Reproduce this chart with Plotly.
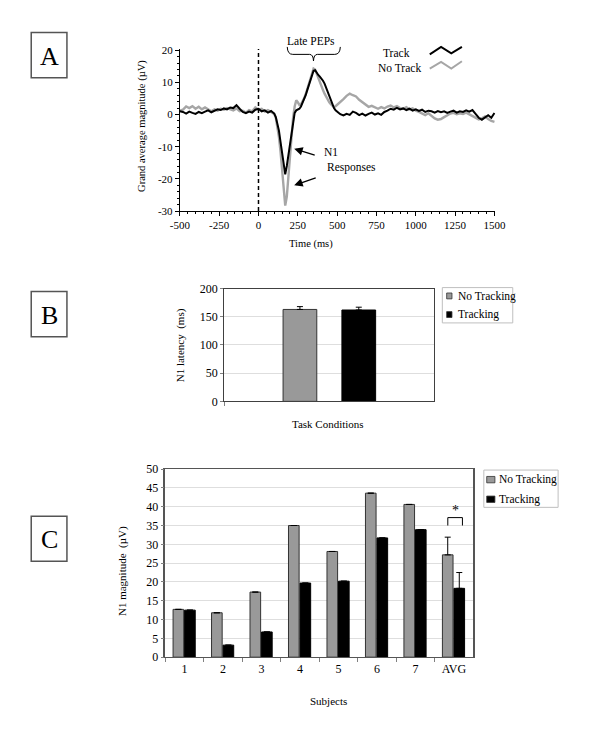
import plotly.graph_objects as go

# ---------------- Data ----------------
# Panel A: grand average waveforms (time in ms, magnitude in µV)
t_ms = [-500, -480, -460, -440, -420, -400, -380, -360, -340, -320, -300, -280, -260, -240, -220,
        -200, -180, -160, -140, -120, -100, -80, -60, -40, -20, 0, 20, 40, 60, 80, 100,
        110, 120, 130, 140, 150, 160, 170, 180, 190, 200, 210, 220, 230, 240, 250, 260, 270, 280,
        290, 300, 310, 320, 330, 340, 350, 360, 370, 380, 390, 400, 410, 420, 430, 440, 450, 460,
        470, 480, 490, 500,
        520, 540, 560, 580, 600, 620, 640, 660, 680, 700, 720, 740, 760, 780, 800, 820, 840, 860,
        880, 900, 920, 940, 960, 980, 1000, 1020, 1040, 1060, 1080, 1100, 1120, 1140, 1160, 1180,
        1200, 1220, 1240, 1260, 1280, 1300, 1320, 1340, 1360, 1380, 1400, 1420, 1440, 1460, 1480, 1500]

track_uv = [1.0, 0.8, 0.3, 0.9, 0.5, 0.2, 0.8, 0.4, 0.9, 1.3, 0.7, 1.2, 1.6, 1.4, 1.9,
            1.6, 2.2, 2.0, 2.9, 1.8, 0.8, 0.4, 0.9, 0.6, 1.5, 1.8, 1.0, 1.3, 0.6, 1.1, 0.3,
            -0.8, -2.5, -5.0, -8.5, -12.5, -16.5, -18.6, -16.0, -12.5, -9.0, -5.0, -1.5, 0.5, 1.3, 1.5, 1.8, 2.5, 3.5,
            4.6, 6.0, 7.6, 9.0, 10.5, 12.2, 13.6, 13.8, 12.8, 12.3, 11.8, 11.2, 10.5, 9.6, 8.4, 7.0, 5.6, 4.2,
            3.0, 2.0, 1.3, 0.8,
            0.1, -0.3, 0.2, -0.1, 0.9, 0.5, -0.2, 0.3, -0.3, 0.2, 0.6, 0.0, 0.4, -0.1, 0.8, 1.2, 1.8, 1.5,
            2.1, 1.6, 1.9, 1.4, 1.8, 1.2, 1.6, 1.1, 1.5, 0.8, 1.2, 1.0, 0.6, 1.1, 0.7, 1.0,
            0.5, 0.9, 1.2, 0.6, 1.0, 0.8, 1.3, 0.9, 1.4, 0.2, -1.0, -1.6, -0.8, -0.2, -1.0, 0.5]

notrack_uv = [1.2, 1.5, 2.5, 2.0, 2.6, 1.8, 2.4, 1.6, 2.2, 1.5, 1.0, 1.6, 1.2, 1.8, 1.5,
              2.0, 1.6, 1.3, 1.9, 1.0, 1.2, 0.6, 1.4, 1.0, 2.2, 1.5, 1.8, 0.9, 1.4, 0.8, 0.2,
              -1.0, -3.5, -7.0, -11.5, -17.0, -24.0, -28.3, -25.5, -19.0, -12.0, -6.0, -1.0, 2.5, 4.4, 3.8, 3.0, 3.2, 4.0,
              5.0, 6.3, 7.8, 9.2, 10.8, 12.5, 14.3, 14.0, 12.6, 11.4, 10.2, 8.8, 7.6, 6.5, 5.5, 4.6, 3.8, 3.2,
              2.6, 2.3, 2.6, 3.0,
              3.8, 4.8, 5.8, 6.5, 6.0, 5.6, 4.6, 3.9, 3.0, 2.4, 2.7, 2.2, 1.8, 2.3, 1.9, 2.5, 2.8, 2.2,
              2.6, 2.0, 1.8, 2.3, 1.6, 1.9, 1.2, 0.8, 0.2, -0.2, 0.4, -0.5, -1.2, -1.6, -1.4, -0.8,
              -0.2, 0.3, 0.5, 0.1, 0.4, 0.2, 0.6, 0.1, -0.3, -1.0, -1.5, -1.2, -0.6, -1.4, -2.0, -2.3]

a_xticks = [-500, -250, 0, 250, 500, 750, 1000, 1250, 1500]
a_yticks = [-30, -20, -10, 0, 10, 20]

# Panel B: N1 latency
cond_cat = ["Task Conditions"]
latency_notrack = [163]
latency_track = [162]
latency_notrack_err = [5]
latency_track_err = [5]

# Panel C: N1 magnitude per subject
subjects = ["1", "2", "3", "4", "5", "6", "7", "AVG"]
n1_notrack = [12.7, 11.8, 17.3, 35.0, 28.1, 43.6, 40.6, 27.2]
n1_track = [12.5, 3.2, 6.7, 19.7, 20.2, 31.7, 33.9, 18.3]
n1_notrack_err = [None, None, None, None, None, None, None, 4.7]
n1_track_err = [None, None, None, None, None, None, None, 4.2]

# ---------------- Styling helpers ----------------
W, H = 600, 740
FONT = "'Liberation Serif', 'Times New Roman', Times, serif"
GRAY = "#999999"


def px(x):
    return x / W


def py(y):
    return 1 - y / H


def hyphen_labels(vals):
    return [str(v) for v in vals]


fig = go.Figure()

# ---------------- Panel A ----------------
fig.add_trace(go.Scatter(x=t_ms, y=notrack_uv, mode="lines", name="No Track",
                         line=dict(color="#a6a6a6", width=2.4), xaxis="x", yaxis="y"))
fig.add_trace(go.Scatter(x=t_ms, y=track_uv, mode="lines", name="Track",
                         line=dict(color="black", width=2.0), xaxis="x", yaxis="y"))

# ---------------- Panel B ----------------
fig.add_trace(go.Bar(x=cond_cat, y=latency_notrack, name="No Tracking",
                     marker=dict(color=GRAY, line=dict(color="#333333", width=1)),
                     offset=-0.219, width=0.161,
                     error_y=dict(type="data", array=latency_notrack_err, arrayminus=[0], symmetric=False,
                                  color="black", thickness=1, width=3),
                     xaxis="x2", yaxis="y2"))
fig.add_trace(go.Bar(x=cond_cat, y=latency_track, name="Tracking",
                     marker=dict(color="black", line=dict(color="black", width=1)),
                     offset=0.062, width=0.161,
                     error_y=dict(type="data", array=latency_track_err, arrayminus=[0], symmetric=False,
                                  color="black", thickness=1, width=3),
                     xaxis="x2", yaxis="y2"))

# ---------------- Panel C ----------------
fig.add_trace(go.Bar(x=subjects, y=n1_notrack, name="No Tracking",
                     marker=dict(color=GRAY, line=dict(color="#333333", width=1)),
                     offset=-0.30, width=0.276,
                     error_y=dict(type="data", array=n1_notrack_err,
                                  arrayminus=[0] * len(subjects), symmetric=False,
                                  color="black", thickness=1, width=3),
                     xaxis="x3", yaxis="y3"))
fig.add_trace(go.Bar(x=subjects, y=n1_track, name="Tracking",
                     marker=dict(color="black", line=dict(color="black", width=1)),
                     offset=0.0, width=0.276,
                     error_y=dict(type="data", array=n1_track_err,
                                  arrayminus=[0] * len(subjects), symmetric=False,
                                  color="black", thickness=1, width=3),
                     xaxis="x3", yaxis="y3"))

shapes = []
annotations = []

# Dashed stimulus-onset line in panel A
shapes.append(dict(type="line", xref="x", yref="y", x0=0, x1=0, y0=-30, y1=20.4,
                   line=dict(color="black", width=1.5, dash="4px,3px")))

# Late PEPs brace (paper coordinates)
brace_pts = "M {a},{b} Q {c},{d} {e},{d} L {f},{d} Q {g},{d} {h},{i} Q {j},{d} {k},{d} L {l},{d} Q {m},{d} {n},{b}".format(
    a=px(287.3), b=py(40.7), c=px(287.6), d=py(48.3), e=px(293), f=px(310.5), g=px(314.2),
    h=px(314.5), i=py(55), j=px(314.8), k=px(318.5), l=px(336.5), m=px(342), n=px(342.3))
shapes.append(dict(type="path", xref="paper", yref="paper", path=brace_pts,
                   line=dict(color="black", width=1)))
annotations.append(dict(xref="paper", yref="paper", x=px(312), y=py(35), text="Late PEPs",
                        showarrow=False, font=dict(size=11.5), xanchor="center", yanchor="middle"))

# Custom legend for panel A (text with zigzag line keys)
annotations.append(dict(xref="paper", yref="paper", x=px(400), y=py(46.5), text="Track",
                        showarrow=False, font=dict(size=11.5), xanchor="center", yanchor="middle"))
annotations.append(dict(xref="paper", yref="paper", x=px(404), y=py(62.5), text="No Track",
                        showarrow=False, font=dict(size=11.5), xanchor="center", yanchor="middle"))
zig_track = "M {},{} L {},{} L {},{} L {},{}".format(px(435), py(48.3), px(446.7), py(40.7),
                                                   px(457.3), py(47.3), px(468.3), py(40.7))
zig_notrack = "M {},{} L {},{} L {},{} L {},{}".format(px(435), py(62.7), px(446.7), py(56),
                                                     px(457.3), py(62.7), px(468.3), py(55.3))
shapes.append(dict(type="path", xref="paper", yref="paper", path=zig_track,
                   line=dict(color="black", width=2)))
shapes.append(dict(type="path", xref="paper", yref="paper", path=zig_notrack,
                   line=dict(color="#a6a6a6", width=2)))

# N1 arrows and label
annotations.append(dict(xref="x", yref="y", x=227, y=-10.6, ax=22, ay=7, text="", showarrow=True,
                        arrowhead=2, arrowsize=1.3, arrowwidth=1.3, arrowcolor="black"))
annotations.append(dict(xref="x", yref="y", x=227, y=-22.0, ax=23, ay=-8, text="", showarrow=True,
                        arrowhead=2, arrowsize=1.3, arrowwidth=1.3, arrowcolor="black"))
annotations.append(dict(xref="paper", yref="paper", x=px(323), y=py(148.3), text="N1",
                        showarrow=False, font=dict(size=11.5), xanchor="left", yanchor="middle"))
annotations.append(dict(xref="paper", yref="paper", x=px(326.5), y=py(163.3), text="Responses",
                        showarrow=False, font=dict(size=11.5), xanchor="left", yanchor="middle"))

# Axis titles panel A
annotations.append(dict(xref="paper", yref="paper", x=px(312), y=py(242), text="Time (ms)",
                        showarrow=False, font=dict(size=10.5), xanchor="center", yanchor="middle"))
annotations.append(dict(xref="paper", yref="paper", x=px(137), y=py(121), text="Grand average magnitude (µV)",
                        showarrow=False, font=dict(size=10.5), textangle=-90, xanchor="center", yanchor="middle"))

# Axis titles panel B
annotations.append(dict(xref="paper", yref="paper", x=px(330), y=py(425), text="Task Conditions",
                        showarrow=False, font=dict(size=11), xanchor="center", yanchor="middle"))
annotations.append(dict(xref="paper", yref="paper", x=px(177), y=py(345), text="N1 latency  (ms)",
                        showarrow=False, font=dict(size=11), textangle=-90, xanchor="center", yanchor="middle"))

# Axis titles panel C
annotations.append(dict(xref="paper", yref="paper", x=px(330), y=py(707), text="Subjects",
                        showarrow=False, font=dict(size=11), xanchor="center", yanchor="middle"))
annotations.append(dict(xref="paper", yref="paper", x=px(116), y=py(575), text="N1 magnitude  (µV)",
                        showarrow=False, font=dict(size=11), textangle=-90, xanchor="center", yanchor="middle"))


# Custom legends for B and C
def add_legend(box, entries):
    x0, y0, x1, y1 = box
    shapes.append(dict(type="rect", xref="paper", yref="paper", x0=px(x0), x1=px(x1), y0=py(y1), y1=py(y0),
                       line=dict(color="#bfbfbf", width=1), fillcolor="white"))
    for (sx0, sy0, sx1, sy1, color, tx, ty, text) in entries:
        shapes.append(dict(type="rect", xref="paper", yref="paper", x0=px(sx0), x1=px(sx1),
                           y0=py(sy1), y1=py(sy0), fillcolor=color, line=dict(color="#333333", width=0.8)))
        annotations.append(dict(xref="paper", yref="paper", x=px(tx), y=py(ty), text=text,
                                showarrow=False, font=dict(size=11.5), xanchor="left", yanchor="middle"))


add_legend((448, 286, 521, 322), [
    (452.5, 291.5, 458, 297.5, GRAY, 462, 295, "No Tracking"),
    (452.5, 310.5, 458, 316.5, "black", 462, 313.5, "Tracking"),
])
add_legend((491, 472, 568, 510), [
    (494, 478.5, 502.5, 485, GRAY, 505, 481.7, "No Tracking"),
    (494, 498.5, 502.5, 505, "black", 505, 501.7, "Tracking"),
])

# Significance bracket on AVG in panel C
shapes.append(dict(type="path", xref="x3", yref="y3",
                   path="M 6.84,35.0 L 6.84,37.1 L 7.22,37.1 L 7.22,35.0",
                   line=dict(color="black", width=1)))
annotations.append(dict(xref="x3", yref="y3", x=7.03, y=38.9, text="*", showarrow=False,
                        font=dict(size=14), xanchor="center", yanchor="middle"))

# Panel letter boxes
for letter, (by0, by1) in zip(["A", "B", "C"], [(26, 72), (290, 336), (519, 565)]):
    shapes.append(dict(type="rect", xref="paper", yref="paper", x0=px(22), x1=px(59),
                       y0=py(by1), y1=py(by0), line=dict(color="#555555", width=1.5)))
    annotations.append(dict(xref="paper", yref="paper", x=px(40.5), y=py((by0 + by1) / 2 + 1), text=letter,
                            showarrow=False, font=dict(size=26), xanchor="center", yanchor="middle"))

axis_common = dict(showline=True, zeroline=False, ticks="outside")

fig.update_layout(
    width=W, height=H,
    margin=dict(l=0, r=0, t=0, b=0),
    paper_bgcolor="white", plot_bgcolor="white",
    showlegend=False,
    barmode="overlay",
    font=dict(family=FONT, color="black", size=11),
    xaxis=dict(domain=[px(176), px(503)], range=[-500, 1506], anchor="y",
               tickvals=a_xticks, ticktext=hyphen_labels(a_xticks), tickfont=dict(size=11), showgrid=False,
               linecolor="black", linewidth=1, ticklen=4, tickcolor="black",
               minor=dict(ticks="outside", ticklen=2, dtick=50, tickcolor="black"), **axis_common),
    yaxis=dict(domain=[py(208), py(42.7)], range=[-30, 20.4], anchor="x",
               tickvals=a_yticks, ticktext=hyphen_labels(a_yticks), tickfont=dict(size=11), showgrid=False,
               linecolor="black", linewidth=1, ticklen=4, tickcolor="black",
               minor=dict(ticks="outside", ticklen=2, dtick=2, tickcolor="black"), **axis_common),
    xaxis2=dict(domain=[px(222), px(439)], anchor="y2", type="category", range=[-0.5, 0.5],
                showticklabels=False, tickson="boundaries", ticklen=4, tickcolor="#808080",
                showgrid=False, mirror=True, linecolor="#404040", linewidth=1, **axis_common),
    yaxis2=dict(domain=[py(402), py(287)], anchor="x2", range=[0, 200], dtick=50,
                tickfont=dict(size=12), showgrid=True, gridcolor="#dedede", gridwidth=1,
                mirror=True, linecolor="#404040", linewidth=1, ticklen=3, tickcolor="#808080",
                **axis_common),
    xaxis3=dict(domain=[px(161), px(480)], anchor="y3", type="category", range=[-0.5, 7.5],
                tickfont=dict(size=12), tickson="boundaries", ticklen=4, tickcolor="#808080",
                showgrid=False, mirror=True, linecolor="#555555", linewidth=1, **axis_common),
    yaxis3=dict(domain=[py(662.7), py(471)], anchor="x3", range=[0, 50], dtick=5,
                tickfont=dict(size=12), showgrid=True, gridcolor="#dedede", gridwidth=1,
                mirror=True, linecolor="#555555", linewidth=1.5, ticklen=3, tickcolor="#808080",
                **axis_common),
    shapes=shapes,
    annotations=annotations,
)

fig.write_html("out.html", config={"displayModeBar": False},
               post_script="document.body.style.margin='0px';")
